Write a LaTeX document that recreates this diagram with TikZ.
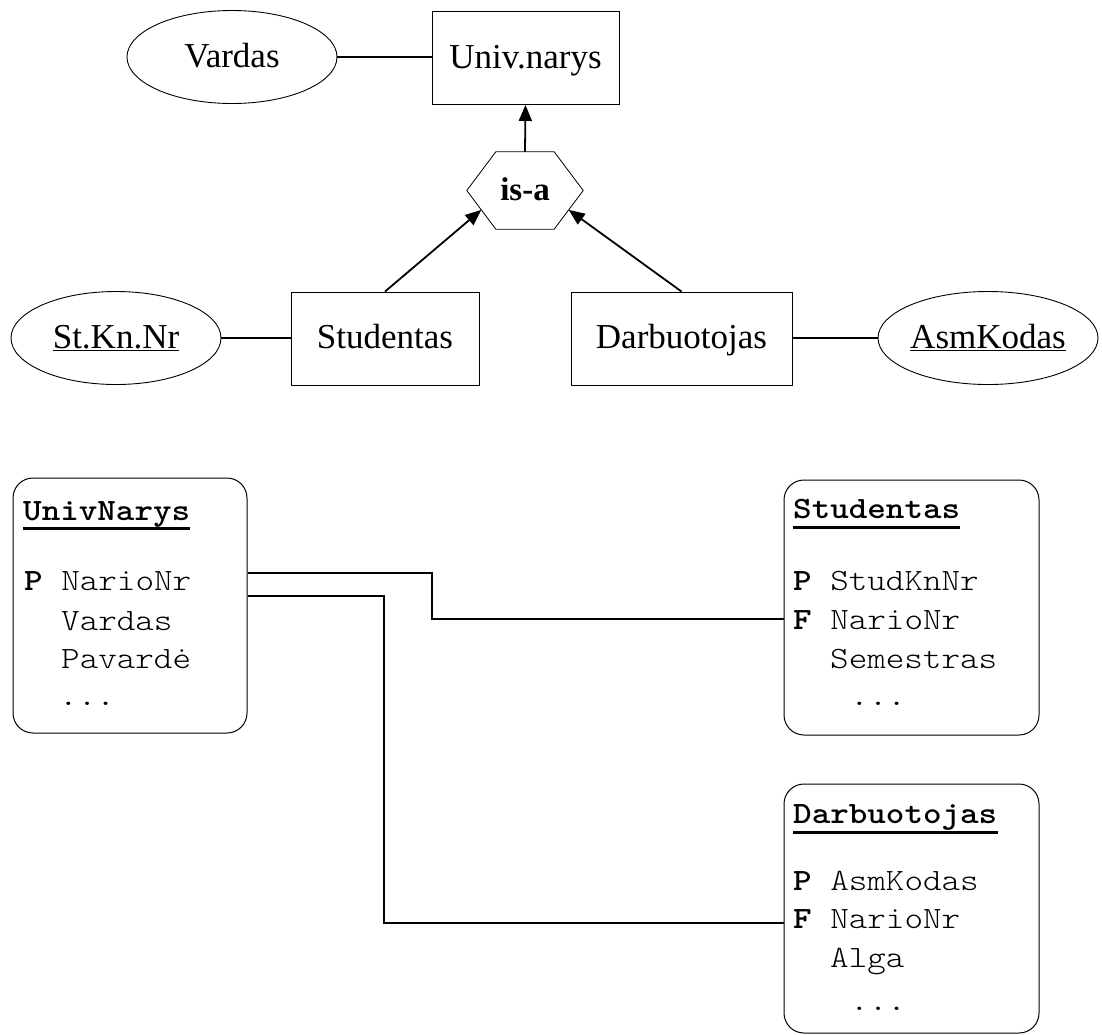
\documentclass[tikz,border=0pt]{standalone}
\usepackage{fontspec}
\setmainfont{Liberation Serif}
\setmonofont{lmmonolt10-regular.otf}[BoldFont=lmmonolt10-bold.otf, FakeStretch=1.14]
\usetikzlibrary{shapes.geometric,arrows.meta,calc}
\begin{document}
\begin{tikzpicture}[x=1pt,y=-1pt,
  erfont/.style={font=\fontsize{35}{40}\selectfont},
  erbox/.style={draw, line width=0.9pt, inner sep=0pt, minimum height=93, text height=24pt, text depth=3.5pt, erfont},
  attr/.style={ellipse, draw, line width=0.9pt, inner sep=0pt, minimum height=93, text height=24pt, text depth=3.5pt, erfont},
  conn/.style={line width=1.8pt},
  arr/.style={line width=1.8pt, -{Triangle[length=16pt,width=13pt]}},
  tab/.style={draw, line width=1pt, rounded corners=20pt, inner sep=0pt},
  tt/.style={anchor=base west, inner sep=0pt, font=\ttfamily\fontsize{31}{36}\selectfont},
  ul/.style={line width=3pt}]
\useasboundingbox (0,0) rectangle (1102,1034);
% ER part
\node[attr, minimum width=210] (vardas) at (232,57) {Vardas};
\node[erbox, minimum width=187] (univ) at (525.5,58) {Univ.narys};
\node[inner sep=0pt, minimum width=116, minimum height=77, font=\bfseries\fontsize{33}{38}\selectfont, text height=21pt, text depth=1pt] (isa) at (525,190.5) {is-a};
\coordinate (htl) at ($(isa.north west)+(29,0)$);
\coordinate (htr) at ($(isa.north east)+(-29,0)$);
\coordinate (hbl) at ($(isa.south west)+(29,0)$);
\coordinate (hbr) at ($(isa.south east)+(-29,0)$);
\draw[line width=0.8pt] (isa.west) -- (htl) -- (htr) -- (isa.east) -- (hbr) -- (hbl) -- cycle;
\coordinate (isaL) at ($(isa.west)!0.5!(hbl)$);
\coordinate (isaR) at ($(isa.east)!0.5!(hbr)$);
\node[attr, minimum width=210] (stkn) at (116,338) {\underline{St.Kn.Nr}};
\node[erbox, minimum width=188] (stud) at (385,338.5) {Studentas};
\node[erbox, minimum width=221] (darb) at (681.5,338.5) {Darbuotojas};
\node[attr, minimum width=214] (asm) at (988,338) {\underline{AsmKodas}};
\draw[conn] (vardas.east) -- (vardas.east -| univ.west);
\draw[arr] (isa.north) -- (univ.south);
\draw[arr] (stud.north) -- (isaL);
\draw[arr] (darb.north) -- (isaR);
\draw[conn] (stkn.east) -- (stkn.east -| stud.west);
\draw[conn] (asm.west -| darb.east) -- (asm.west);
% tables
\node[tab, minimum width=234, minimum height=255] (univtab) at (130,605.5) {};
\node[tab, minimum width=255, minimum height=255] (studtab) at (911.5,607.5) {};
\node[tab, minimum width=255, minimum height=249] (darbtab) at (911.5,908.5) {};
% UnivNarys
\node[tt] (ut) at (23,520) {\bfseries UnivNarys};
\draw[ul] ([yshift=-8pt]ut.base west) -- ([yshift=-8pt]ut.base east);
\node[tt] (u1) at (24,590) {\bfseries P\mdseries{} NarioNr};
\node[tt] (u2) at (61,630) {Vardas};
\node[tt] (u3) at (61,668) {Pavardė};
\node[tt] (u4) at (59,705) {...};
% Studentas
\node[tt] (st) at (793,518) {\bfseries Studentas};
\draw[ul] ([yshift=-9pt]st.base west) -- ([yshift=-9pt]st.base east);
\node[tt] (s1) at (793,590) {\bfseries P\mdseries{} StudKnNr};
\node[tt] (s2) at (793,629) {\bfseries F\mdseries{} NarioNr};
\node[tt] (s3) at (830,668) {Semestras};
\node[tt] (s4) at (850,705) {...};
% Darbuotojas
\node[tt] (dt) at (793,823) {\bfseries Darbuotojas};
\draw[ul] ([yshift=-9pt]dt.base west) -- ([yshift=-9pt]dt.base east);
\node[tt] (d1) at (793,890) {\bfseries P\mdseries{} AsmKodas};
\node[tt] (d2) at (793,928) {\bfseries F\mdseries{} NarioNr};
\node[tt] (d3) at (830,967) {Alga};
\node[tt] (d4) at (850,1010) {...};
% connectors
\coordinate (r1) at (432,573);
\coordinate (r1b) at (432,619);
\coordinate (r2) at (384,596);
\coordinate (r2b) at (384,923);
\draw[conn] (univtab.east |- r1) -- (r1) -- (r1b) -- (r1b -| studtab.west);
\draw[conn] (univtab.east |- r2) -- (r2) -- (r2b) -- (r2b -| darbtab.west);
\end{tikzpicture}
\end{document}
